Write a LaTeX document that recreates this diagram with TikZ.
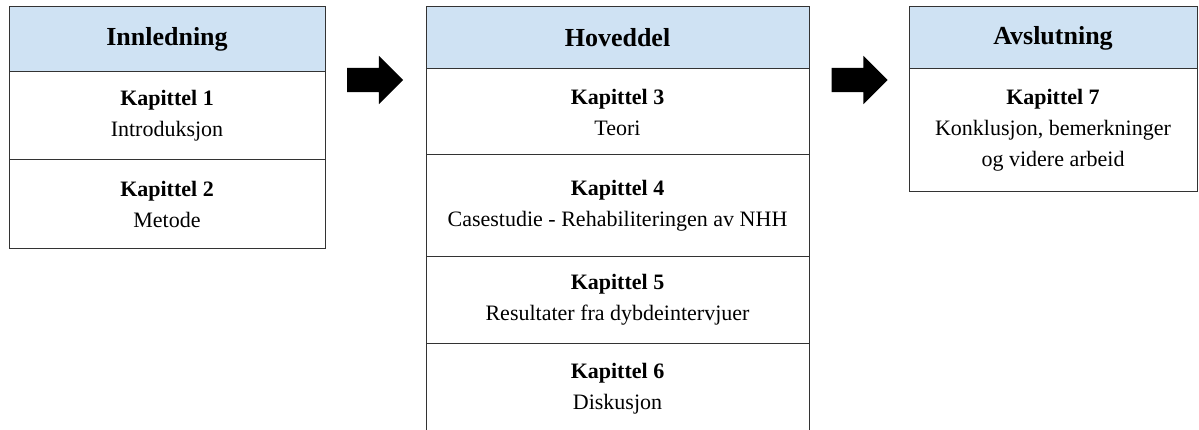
\documentclass[tikz,border=0pt]{standalone}
\usepackage{fontspec}
\setmainfont{Liberation Serif}
\usetikzlibrary{positioning, shapes.arrows}
\definecolor{hodeblaa}{HTML}{CFE2F3}

\begin{document}
\begin{tikzpicture}[x=1pt, y=-1pt,
    hode/.style={draw=black!80, fill=hodeblaa, line width=1pt, outer sep=0pt, inner sep=0pt,
        minimum height=62pt, font=\fontsize{26}{30}\selectfont\bfseries},
    rad/.style={draw=black!80, line width=1pt, outer sep=0pt, inner sep=0pt, align=center,
        font=\fontsize{22}{31}\selectfont},
    pil/.style={single arrow, fill=black, draw=none, inner sep=0pt, text height=12pt, text depth=12pt,
        minimum height=56pt, single arrow head extend=12pt}]
    \clip (0,0) rectangle (1199,430);

    % Innledning
    \node[hode, minimum width=316pt, minimum height=65pt] (innl) at (167,39.5) {Innledning};
    \node[rad, minimum width=316pt, minimum height=88pt, below=0pt of innl] (kap1) {\textbf{Kapittel 1}\\Introduksjon};
    \node[rad, minimum width=316pt, minimum height=89pt, below=0pt of kap1] (kap2) {\textbf{Kapittel 2}\\Metode};

    \node[pil] (pil1) at (369,80) {};

    % Hoveddel
    \node[hode, minimum width=383pt] (hoved) at (617.5,38) {Hoveddel};
    \node[rad, minimum width=383pt, minimum height=86pt, below=0pt of hoved] (kap3) {\textbf{Kapittel 3}\\Teori};
    \node[rad, minimum width=383pt, minimum height=101.5pt, below=0pt of kap3] (kap4) {\textbf{Kapittel 4}\\Casestudie - Rehabiliteringen av NHH};
    \node[rad, minimum width=383pt, minimum height=86.5pt, below=0pt of kap4] (kap5) {\textbf{Kapittel 5}\\Resultater fra dybdeintervjuer};
    \node[rad, draw=none, minimum width=383pt, minimum height=92pt, below=0pt of kap5] (kap6) {\textbf{Kapittel 6}\\Diskusjon};
    \draw[draw=black!80, line width=1pt] (kap5.south west) -- ++(0,100);
    \draw[draw=black!80, line width=1pt] (kap5.south east) -- ++(0,100);

    \node[pil] (pil2) at (853.5,80) {};

    % Avslutning
    \node[hode, minimum width=288pt] (avsl) at (1053,38) {Avslutning};
    \node[rad, minimum width=288pt, minimum height=123pt, below=0pt of avsl] (kap7) {\textbf{Kapittel 7}\\Konklusjon, bemerkninger\\og videre arbeid};
\end{tikzpicture}
\end{document}
